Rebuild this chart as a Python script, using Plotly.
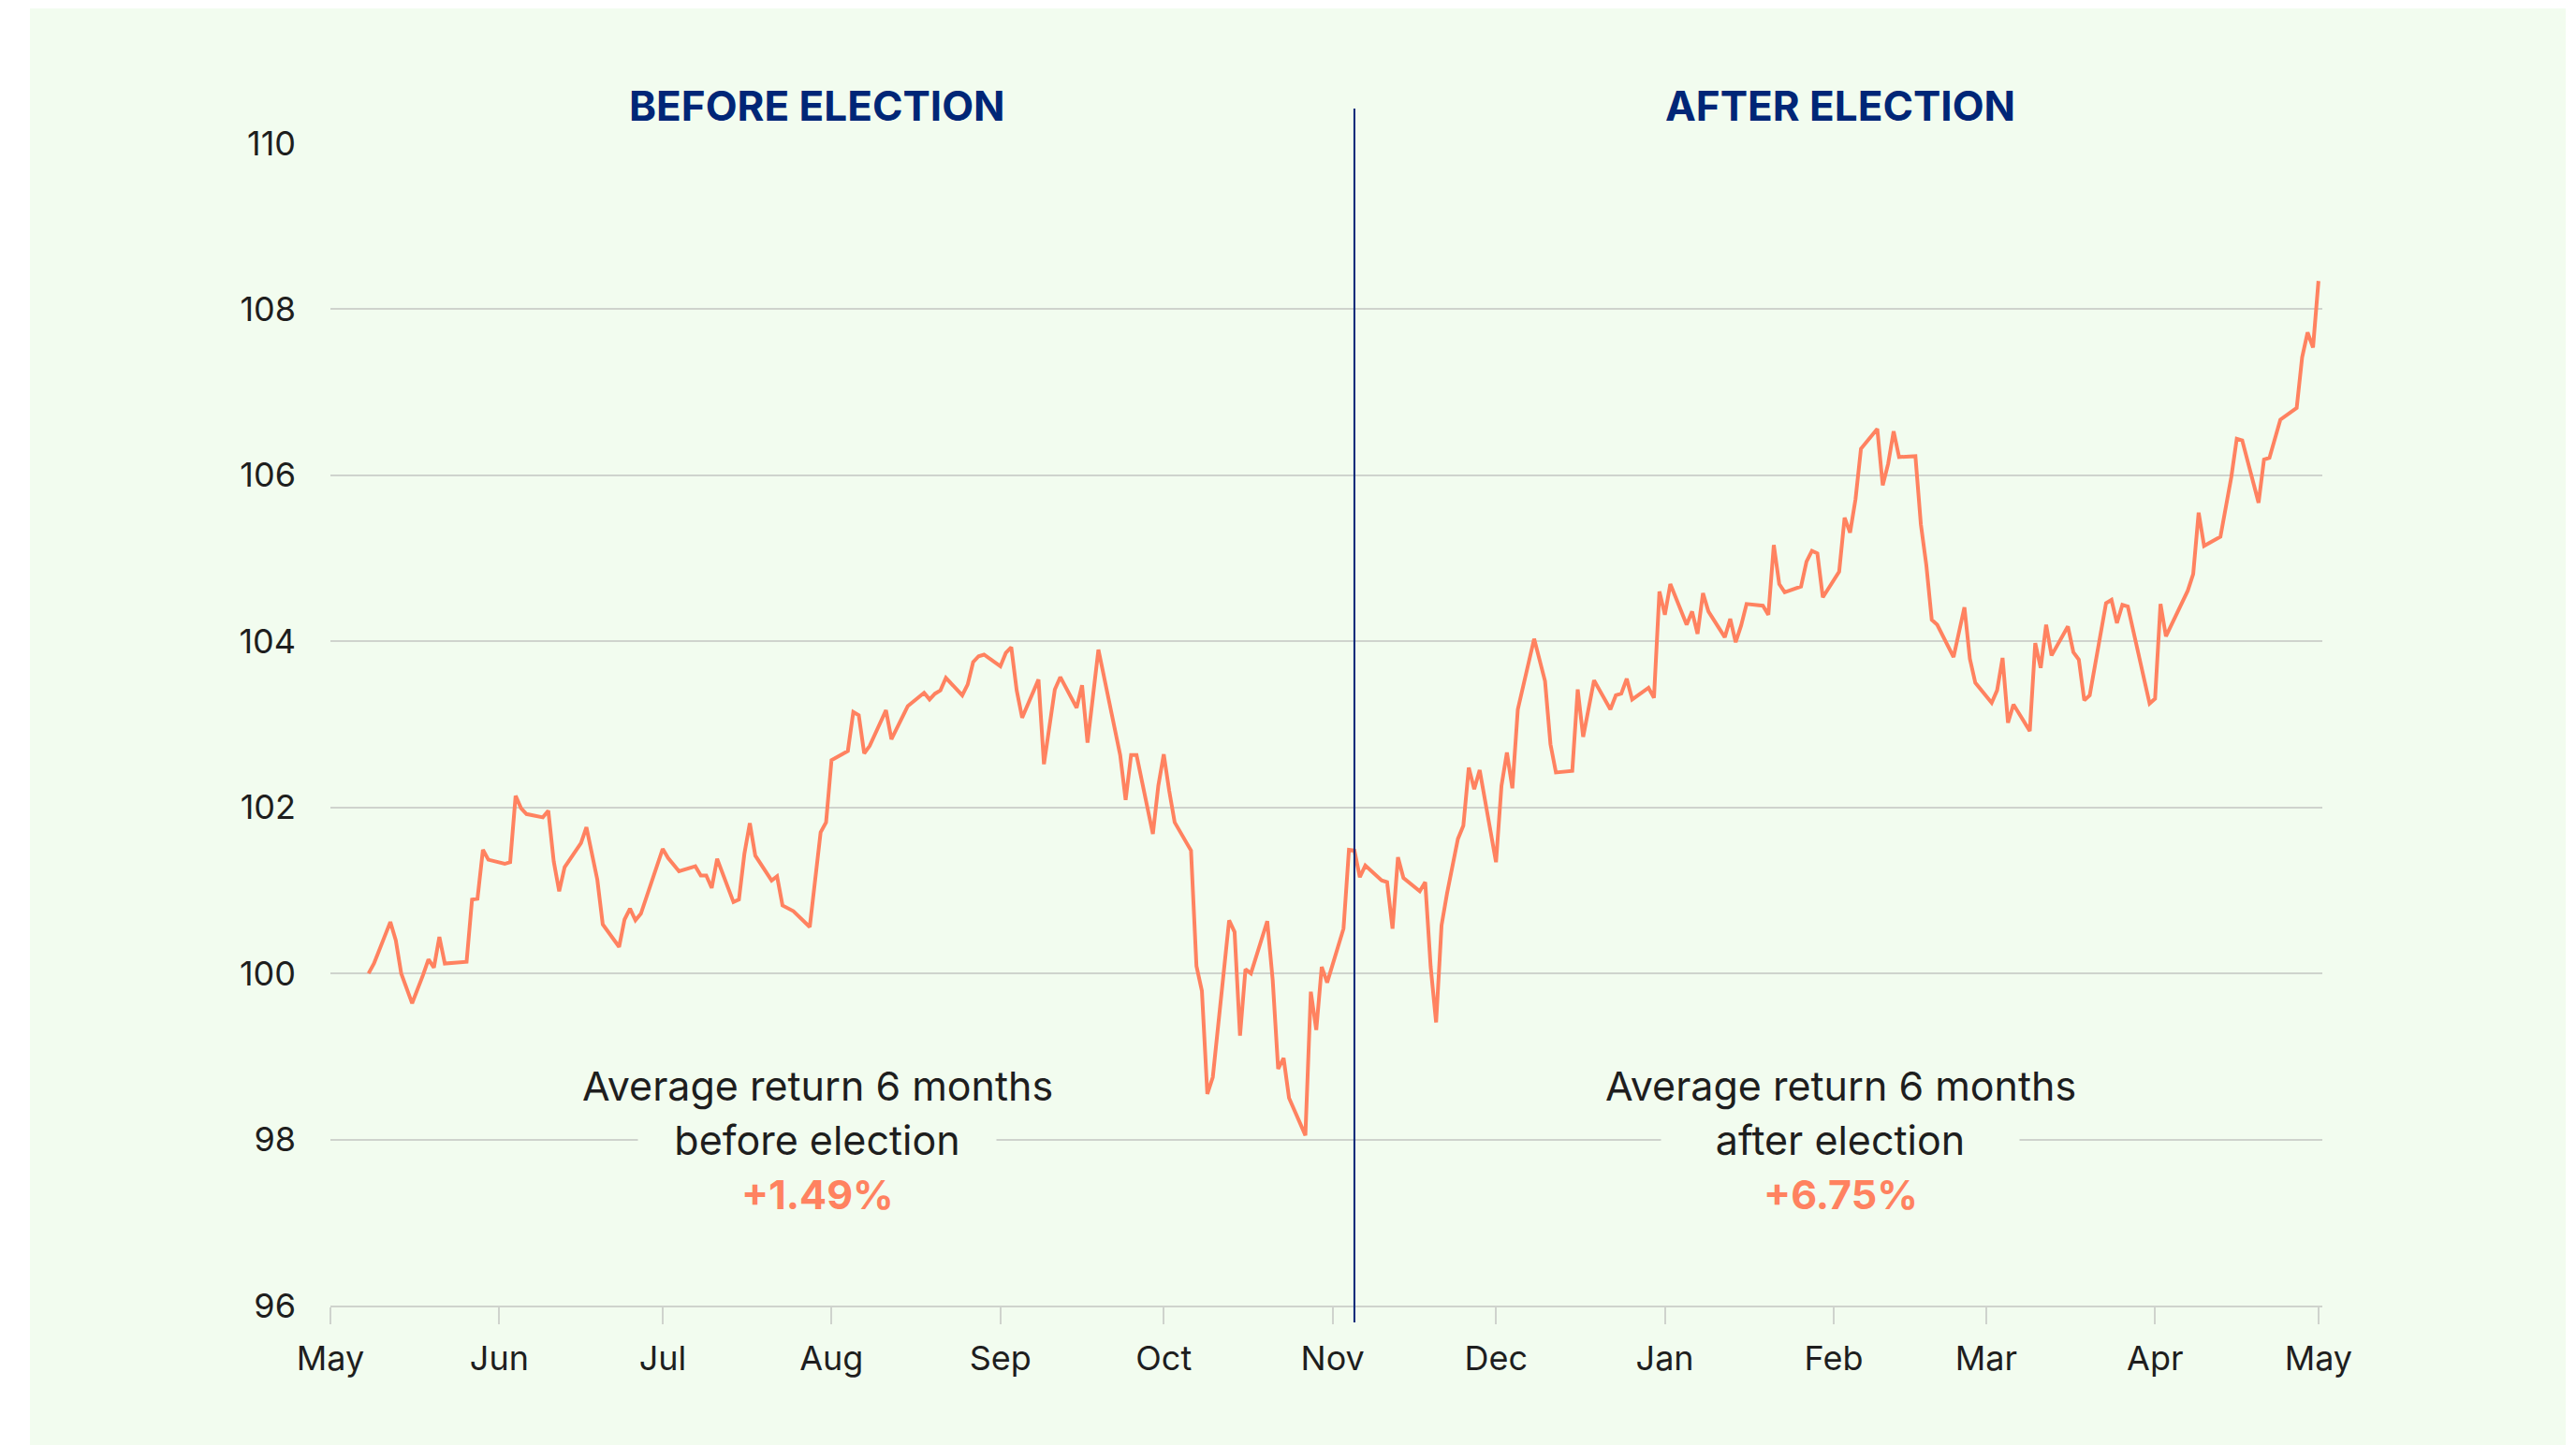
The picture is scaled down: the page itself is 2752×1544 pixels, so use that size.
import plotly.graph_objects as go

# ---------------- data ----------------
dates = [
    "2024-05-08", "2024-05-09", "2024-05-12", "2024-05-13", "2024-05-14", "2024-05-16", "2024-05-18",
    "2024-05-19", "2024-05-20", "2024-05-21", "2024-05-22", "2024-05-26", "2024-05-27", "2024-05-28",
    "2024-05-29", "2024-05-30", "2024-06-02", "2024-06-03", "2024-06-04", "2024-06-05", "2024-06-06",
    "2024-06-09", "2024-06-10", "2024-06-11", "2024-06-12", "2024-06-13", "2024-06-16", "2024-06-17",
    "2024-06-19", "2024-06-20", "2024-06-23", "2024-06-24", "2024-06-25", "2024-06-26", "2024-06-27",
    "2024-07-01", "2024-07-02", "2024-07-04", "2024-07-07", "2024-07-08", "2024-07-09", "2024-07-10",
    "2024-07-11", "2024-07-14", "2024-07-15", "2024-07-16", "2024-07-17", "2024-07-18", "2024-07-21",
    "2024-07-22", "2024-07-23", "2024-07-24", "2024-07-25", "2024-07-28", "2024-07-29", "2024-07-30",
    "2024-07-31", "2024-08-01", "2024-08-04", "2024-08-05", "2024-08-06", "2024-08-07", "2024-08-08",
    "2024-08-11", "2024-08-12", "2024-08-13", "2024-08-15", "2024-08-18", "2024-08-19", "2024-08-20",
    "2024-08-21", "2024-08-22", "2024-08-25", "2024-08-26", "2024-08-27", "2024-08-28", "2024-08-29",
    "2024-09-01", "2024-09-02", "2024-09-03", "2024-09-04", "2024-09-05", "2024-09-08", "2024-09-09",
    "2024-09-11", "2024-09-12", "2024-09-15", "2024-09-16", "2024-09-17", "2024-09-19", "2024-09-23",
    "2024-09-24", "2024-09-25", "2024-09-26", "2024-09-29", "2024-09-30", "2024-10-01", "2024-10-02",
    "2024-10-03", "2024-10-06", "2024-10-07", "2024-10-08", "2024-10-09", "2024-10-10", "2024-10-13",
    "2024-10-14", "2024-10-15", "2024-10-16", "2024-10-17", "2024-10-20", "2024-10-21", "2024-10-22",
    "2024-10-23", "2024-10-24", "2024-10-27", "2024-10-28", "2024-10-29", "2024-10-30", "2024-10-31",
    "2024-11-03", "2024-11-04", "2024-11-05", "2024-11-06", "2024-11-07", "2024-11-10", "2024-11-11",
    "2024-11-12", "2024-11-13", "2024-11-14", "2024-11-17", "2024-11-18", "2024-11-19", "2024-11-20",
    "2024-11-21", "2024-11-22", "2024-11-24", "2024-11-25", "2024-11-26", "2024-11-27", "2024-11-28",
    "2024-12-01", "2024-12-02", "2024-12-03", "2024-12-04", "2024-12-05", "2024-12-08", "2024-12-10",
    "2024-12-11", "2024-12-12", "2024-12-15", "2024-12-16", "2024-12-17", "2024-12-19", "2024-12-22",
    "2024-12-23", "2024-12-24", "2024-12-25", "2024-12-26", "2024-12-29", "2024-12-30", "2024-12-31",
    "2025-01-01", "2025-01-02", "2025-01-05", "2025-01-06", "2025-01-07", "2025-01-08", "2025-01-09",
    "2025-01-12", "2025-01-13", "2025-01-14", "2025-01-15", "2025-01-16", "2025-01-19", "2025-01-20",
    "2025-01-21", "2025-01-22", "2025-01-23", "2025-01-26", "2025-01-27", "2025-01-28", "2025-01-29",
    "2025-01-30", "2025-02-02", "2025-02-03", "2025-02-04", "2025-02-05", "2025-02-06", "2025-02-09",
    "2025-02-10", "2025-02-11", "2025-02-12", "2025-02-13", "2025-02-16", "2025-02-17", "2025-02-18",
    "2025-02-19", "2025-02-20", "2025-02-23", "2025-02-25", "2025-02-26", "2025-02-27", "2025-03-02",
    "2025-03-03", "2025-03-04", "2025-03-05", "2025-03-06", "2025-03-09", "2025-03-10", "2025-03-11",
    "2025-03-12", "2025-03-13", "2025-03-16", "2025-03-17", "2025-03-18", "2025-03-19", "2025-03-20",
    "2025-03-23", "2025-03-24", "2025-03-25", "2025-03-26", "2025-03-27", "2025-03-30", "2025-03-31",
    "2025-04-01", "2025-04-02", "2025-04-03", "2025-04-07", "2025-04-08", "2025-04-09", "2025-04-10",
    "2025-04-13", "2025-04-15", "2025-04-16", "2025-04-17", "2025-04-20", "2025-04-21", "2025-04-22",
    "2025-04-24", "2025-04-27", "2025-04-28", "2025-04-29", "2025-04-30", "2025-05-01",
]

index_values = [
    100.00, 100.12, 100.62, 100.40, 100.00, 99.64, 99.98,
    100.17, 100.07, 100.44, 100.12, 100.14, 100.89, 100.90,
    101.49, 101.37, 101.32, 101.34, 102.14, 101.99, 101.92,
    101.88, 101.96, 101.35, 100.99, 101.28, 101.57, 101.76,
    101.13, 100.59, 100.32, 100.65, 100.78, 100.64, 100.72,
    101.50, 101.39, 101.23, 101.29, 101.18, 101.18, 101.03,
    101.38, 100.86, 100.89, 101.44, 101.81, 101.42, 101.12,
    101.17, 100.82, 100.79, 100.75, 100.56, 101.17, 101.70,
    101.82, 102.57, 102.68, 103.15, 103.11, 102.65, 102.74,
    103.17, 102.82, 102.95, 103.22, 103.38, 103.30, 103.37,
    103.41, 103.56, 103.35, 103.48, 103.75, 103.82, 103.84,
    103.70, 103.86, 103.93, 103.41, 103.08, 103.54, 102.52,
    103.42, 103.57, 103.20, 103.47, 102.78, 103.90, 102.63,
    102.09, 102.63, 102.63, 101.68, 102.26, 102.64, 102.20,
    101.82, 101.48, 100.09, 99.79, 98.55, 98.75, 100.64,
    100.50, 99.25, 100.05, 100.00, 100.63, 99.92, 98.85,
    98.98, 98.50, 98.05, 99.78, 99.32, 100.08, 99.89,
    100.54, 101.49, 101.48, 101.16, 101.30, 101.12, 101.10,
    100.54, 101.40, 101.15, 100.99, 101.10, 100.08, 99.41,
    100.58, 100.96, 101.62, 101.78, 102.48, 102.22, 102.45,
    101.34, 102.26, 102.66, 102.23, 103.18, 104.03, 103.52,
    102.76, 102.42, 102.44, 103.42, 102.85, 103.53, 103.18,
    103.35, 103.37, 103.55, 103.30, 103.44, 103.32, 104.60,
    104.32, 104.69, 104.20, 104.36, 104.09, 104.58, 104.36,
    104.05, 104.27, 103.99, 104.19, 104.45, 104.43, 104.32,
    105.16, 104.69, 104.59, 104.66, 104.96, 105.09, 105.06,
    104.53, 104.84, 105.49, 105.31, 105.71, 106.32, 106.56,
    105.88, 106.14, 106.53, 106.22, 106.23, 105.41, 104.92,
    104.26, 104.20, 103.81, 104.41, 103.79, 103.50, 103.26,
    103.41, 103.80, 103.02, 103.24, 102.92, 103.98, 103.68,
    104.20, 103.83, 104.18, 103.87, 103.78, 103.29, 103.35,
    104.46, 104.50, 104.22, 104.44, 104.42, 103.52, 103.25,
    103.31, 104.45, 104.06, 104.61, 104.81, 105.55, 105.15,
    105.26, 105.98, 106.44, 106.42, 105.67, 106.19, 106.21,
    106.67, 106.81, 107.42, 107.72, 107.54, 108.34,
]

election_date = "2024-11-05"
x_range = ["2024-05-01", "2025-05-01 17:00"]
y_ticks = [96, 98, 100, 102, 104, 106, 108, 110]
y_range = [96, 110]

section_titles = ["BEFORE ELECTION", "AFTER ELECTION"]
note_lines_before = ["Average return 6 months", "before election", "+1.49%"]
note_lines_after = ["Average return 6 months", "after election", "+6.75%"]

# ---------------- style ----------------
W, H = 2752, 1544
L, R, T, B = 353, 271, 153, 149
PW, PH = W - L - R, H - T - B

BG_GREEN = "#F2FCEF"
ORANGE = "#FF8260"
NAVY = "#002677"
GRID = "#CFD3CD"
TEXT = "#1E1E1E"
FONT = "Inter"

def px_to_paper_x(px):
    return (px - L) / PW

def px_to_paper_y(py):
    return (H - B - py) / PH

fig = go.Figure()
fig.add_trace(go.Scatter(
    x=dates, y=index_values, mode="lines",
    line=dict(color=ORANGE, width=4),
    hoverinfo="skip", showlegend=False,
))

# green panel
fig.add_shape(type="rect", xref="paper", yref="paper",
              x0=px_to_paper_x(32), x1=px_to_paper_x(2741),
              y0=px_to_paper_y(1560), y1=px_to_paper_y(9),
              fillcolor=BG_GREEN, line=dict(width=0), layer="below")

# election line
fig.add_shape(type="line", xref="x", yref="paper",
              x0=election_date, x1=election_date,
              y0=px_to_paper_y(1413), y1=px_to_paper_y(116),
              line=dict(color=NAVY, width=2), layer="above")

annotations = []
title_x = [px_to_paper_x(873), px_to_paper_x(1966)]
for t, xp in zip(section_titles, title_x):
    annotations.append(dict(
        text="<b>" + t + "</b>", xref="paper", yref="paper",
        x=xp, y=px_to_paper_y(113), xanchor="center", yanchor="middle",
        showarrow=False, font=dict(family=FONT, size=44, color=NAVY)))

for lines, xp in ((note_lines_before, title_x[0]), (note_lines_after, title_x[1])):
    # middle line masks the gridline
    annotations.append(dict(
        text=lines[1], xref="paper", yref="paper",
        x=xp, y=px_to_paper_y(1218), xanchor="center", yanchor="middle",
        showarrow=False, width=382, height=40, bgcolor=BG_GREEN, borderpad=0,
        font=dict(family=FONT, size=43, color=TEXT)))
    annotations.append(dict(
        text=lines[0], xref="paper", yref="paper",
        x=xp, y=px_to_paper_y(1160), xanchor="center", yanchor="middle",
        showarrow=False, font=dict(family=FONT, size=43, color=TEXT)))
    annotations.append(dict(
        text="<b>" + lines[2] + "</b>", xref="paper", yref="paper",
        x=xp, y=px_to_paper_y(1276), xanchor="center", yanchor="middle",
        showarrow=False, font=dict(family=FONT, size=43, color=ORANGE)))

fig.update_layout(
    width=W, height=H,
    margin=dict(l=L, r=R, t=T, b=B, pad=0),
    paper_bgcolor="#FFFFFF",
    plot_bgcolor="rgba(0,0,0,0)",
    font=dict(family=FONT, size=36, color=TEXT),
    annotations=annotations,
    showlegend=False,
    xaxis=dict(
        type="date", range=x_range,
        dtick="M1", tick0="2024-05-01", tickformat="%b",
        ticks="outside", ticklen=18, tickwidth=2, tickcolor=GRID,
        showgrid=False, showline=True, linecolor=GRID, linewidth=2,
        tickfont=dict(family=FONT, size=36, color=TEXT),
        ticklabelstandoff=6, zeroline=False,
    ),
    yaxis=dict(
        range=y_range, tickvals=y_ticks,
        showgrid=True, gridcolor=GRID, gridwidth=2,
        zeroline=False, showline=False, ticks="",
        tickfont=dict(family=FONT, size=36, color=TEXT),
        ticklabelstandoff=36,
    ),
)

fig.write_html(
    "out.html",
    config={"displayModeBar": False},
    post_script="document.body.style.margin='0px';document.body.style.overflow='hidden';",
)
